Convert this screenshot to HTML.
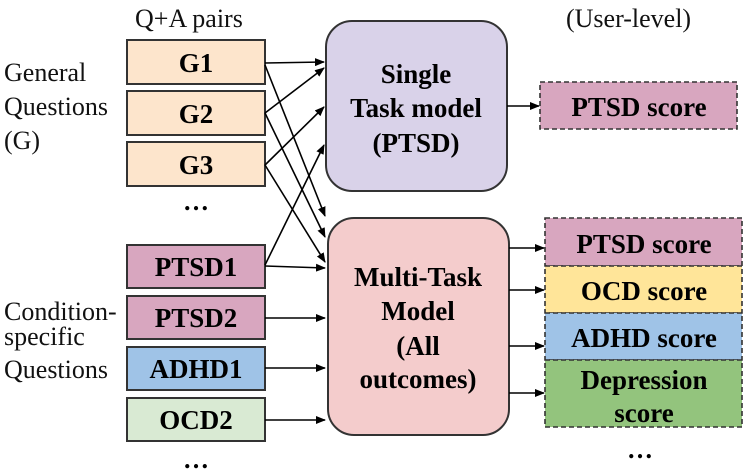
<!DOCTYPE html>
<html><head><meta charset="utf-8"><style>body{margin:0;background:#fff}svg{display:block}text{font-family:"Liberation Serif","Noto Serif CJK SC","DejaVu Serif",serif}</style></head><body>
<svg width="747" height="475" xmlns="http://www.w3.org/2000/svg">
<defs><marker id="a" markerWidth="10" markerHeight="8" refX="9" refY="4" orient="auto" markerUnits="userSpaceOnUse"><path d="M0,0L10,4L0,8z" fill="#000"/></marker></defs>
<g font-size="26" fill="#111">
<text x="135" y="27">Q+A pairs</text>
<text x="566" y="27">(User-level)</text>
<text x="4" y="81">General</text>
<text x="4" y="115">Questions</text>
<text x="4" y="149">(G)</text>
<text x="4" y="320">Condition-</text>
<text x="4" y="345">specific</text>
<text x="4" y="378">Questions</text>
</g>
<g stroke="#333" stroke-width="2">
<rect x="127" y="40" width="138" height="44" fill="#fde5cc"/>
<rect x="127" y="91" width="138" height="44" fill="#fde5cc"/>
<rect x="127" y="142" width="138" height="44" fill="#fde5cc"/>
<rect x="127" y="245" width="138" height="43" fill="#d8a6bf"/>
<rect x="127" y="296" width="138" height="43" fill="#d8a6bf"/>
<rect x="127" y="347" width="138" height="43" fill="#9fc3e7"/>
<rect x="127" y="398" width="138" height="43" fill="#d9ead3"/>
<rect x="326" y="21" width="181" height="170" rx="26" fill="#d9d2e9"/>
<rect x="328" y="218" width="181" height="217" rx="26" fill="#f4cccc"/>
</g>
<g stroke="#333" stroke-width="1.6" stroke-dasharray="5,3">
<rect x="540" y="82" width="197" height="47" fill="#d8a6bf"/>
<rect x="545" y="218" width="197" height="48" fill="#d8a6bf"/>
<rect x="545" y="266" width="197" height="47" fill="#ffe599"/>
<rect x="545" y="313" width="197" height="47" fill="#9fc3e7"/>
<rect x="545" y="360" width="197" height="67" fill="#93c47d"/>
</g>
<g stroke="#000" stroke-width="1.6" marker-end="url(#a)">
<line x1="265" y1="63" x2="324" y2="62"/>
<line x1="265" y1="65" x2="325" y2="216"/>
<line x1="265" y1="113" x2="324" y2="68"/>
<line x1="265" y1="113" x2="325" y2="237"/>
<line x1="265" y1="165" x2="324" y2="107"/>
<line x1="265" y1="165" x2="325" y2="262"/>
<line x1="265" y1="265" x2="324" y2="145"/>
<line x1="265" y1="266" x2="325" y2="268"/>
<line x1="265" y1="318" x2="325" y2="318"/>
<line x1="265" y1="368" x2="325" y2="368"/>
<line x1="265" y1="420" x2="325" y2="420"/>
<line x1="507" y1="106" x2="539" y2="106"/>
<line x1="509" y1="248" x2="544" y2="248"/>
<line x1="509" y1="290" x2="544" y2="290"/>
<line x1="509" y1="346" x2="544" y2="346"/>
<line x1="509" y1="393" x2="544" y2="393"/>
</g>
<g font-size="27" font-weight="bold" text-anchor="middle" fill="#000">
<text x="196" y="72">G1</text>
<text x="196" y="123">G2</text>
<text x="196" y="174">G3</text>
<text x="196" y="276">PTSD1</text>
<text x="196" y="327">PTSD2</text>
<text x="196" y="378">ADHD1</text>
<text x="196" y="429">OCD2</text>
<text x="416" y="83">Single</text>
<text x="416" y="117">Task model</text>
<text x="416" y="152">(PTSD)</text>
<text x="418" y="286">Multi-Task</text>
<text x="418" y="320">Model</text>
<text x="418" y="355">(All</text>
<text x="418" y="388">outcomes)</text>
<text x="639" y="116">PTSD score</text>
<text x="644" y="253">PTSD score</text>
<text x="644" y="300">OCD score</text>
<text x="644" y="347">ADHD score</text>
<text x="644" y="389">Depression</text>
<text x="644" y="422">score</text>
</g>
<g font-size="26" font-weight="bold" text-anchor="middle">
<text x="196" y="210">…</text>
<text x="196" y="468">…</text>
<text x="640" y="458">…</text>
</g>
</svg>
</body></html>
